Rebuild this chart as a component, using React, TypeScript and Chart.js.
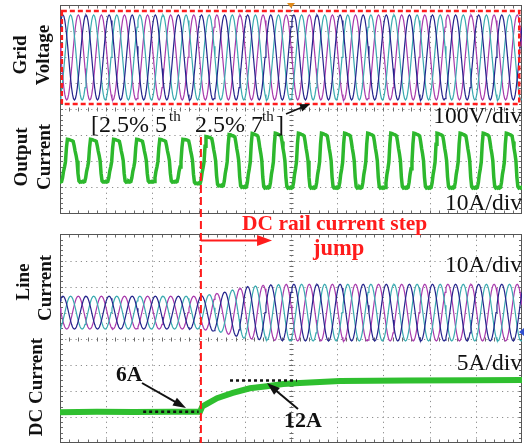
import React, { useEffect, useRef } from "react";
import { Chart, registerables } from "chart.js";

Chart.register(...registerables);

// ---------- layout of the scope screen (in divisions) ----------
const xDivisions = 10;
const panelDivisions = 8;
const gapDivisions = 0.8;
const cyclePeriodDiv = 0.5; // one line cycle = half a division
const stepTimeDiv = 3.05;   // DC rail current step instant

// ---------- waveform shapes (one period, 24 samples) ----------
const sineShape = [0, 0.26, 0.5, 0.71, 0.87, 0.97, 1, 0.97, 0.87, 0.71, 0.5, 0.26,
  0, -0.26, -0.5, -0.71, -0.87, -0.97, -1, -0.97, -0.87, -0.71, -0.5, -0.26];
const outputCurrentShape = [1.0, 0.99, 0.98, 0.96, 0.95, 0.93, 0.9, 0.7, 0.45, 0.25, 0.0, -0.6,
  -0.95, -1.0, -0.98, -1.0, -0.97, -1.0, -0.98, -0.8, -0.5, -0.3, -0.05, 0.6];

// ---------- per-cycle peak values ----------
const gridVoltagePeakV = [163, 163, 163, 163, 163, 163, 163, 163, 163, 163, 163,
  163, 163, 163, 163, 163, 163, 163, 163, 163, 163, 163];
const outputCurrentPeakA = [8.2, 8.2, 8.2, 8.2, 8.2, 8.2, 8.2, 9.2, 10.0, 10.4, 10.5,
  10.5, 10.5, 10.5, 10.5, 10.5, 10.5, 10.5, 10.5, 10.5, 10.5, 10.5];
const lineCurrentPeakA = [6.3, 6.3, 6.3, 6.3, 6.3, 6.3, 6.3, 6.3, 7.6, 9.9, 10.6,
  10.9, 10.9, 10.9, 10.9, 10.9, 10.9, 10.9, 10.9, 10.9, 10.9, 10.9];

// ---------- DC rail current ----------
const dcTimeDiv = [0, 0.8, 1.6, 2.4, 3.03, 3.08, 3.18, 3.4, 3.74, 4.11, 4.48, 4.83, 5.19, 6.06, 7.5, 9.0, 10];
const dcCurrentA = [5.9, 6.0, 5.95, 6.0, 6.0, 7.0, 7.5, 8.6, 9.6, 10.5, 10.9, 11.3, 11.5, 11.9, 12.0, 12.05, 12.1];

// ---------- channel settings: zero position (div) and scale (units/div) ----------
const gridVoltageZeroDiv = 14.79;
const gridVoltageScale = 100; // V/div
const outputCurrentZeroDiv = 10.83;
const outputCurrentScale = 10; // A/div
const outputCurrentStartDiv = -0.34;
const lineCurrentZeroDiv = 5.0;
const lineCurrentScale = 10; // A/div
const dcCurrentZeroDiv = 0;
const dcCurrentScale = 5; // A/div

const phaseColors = ["#24248c", "#3aaab0", "#a83aac"];
const phaseShifts = [3, 19, 11];

const SERIF = "'Liberation Serif', 'Times New Roman', serif";

function buildWave(shape: number[], peaks: number[], startDiv: number, zeroDiv: number, scale: number, shift: number) {
  const pts: { x: number; y: number }[] = [];
  const n = shape.length;
  for (let c = 0; c < peaks.length; c++) {
    const next = peaks[Math.min(c + 1, peaks.length - 1)];
    for (let k = 0; k < n; k++) {
      const t = startDiv + (c + k / n) * cyclePeriodDiv;
      const amp = peaks[c] + (next - peaks[c]) * (k / n);
      pts.push({ x: t, y: zeroDiv + (amp * shape[(k + shift) % n]) / scale });
    }
  }
  return pts;
}

const yMax = panelDivisions * 2 + gapDivisions;

function arrow(ctx: CanvasRenderingContext2D, x1: number, y1: number, x2: number, y2: number, color: string, w: number, hl: number, hw: number) {
  const ang = Math.atan2(y2 - y1, x2 - x1);
  ctx.save();
  ctx.strokeStyle = color;
  ctx.fillStyle = color;
  ctx.lineWidth = w;
  ctx.setLineDash([]);
  ctx.beginPath();
  ctx.moveTo(x1, y1);
  ctx.lineTo(x2 - Math.cos(ang) * hl * 0.8, y2 - Math.sin(ang) * hl * 0.8);
  ctx.stroke();
  ctx.beginPath();
  ctx.moveTo(x2, y2);
  ctx.lineTo(x2 - Math.cos(ang) * hl + Math.sin(ang) * hw / 2, y2 - Math.sin(ang) * hl - Math.cos(ang) * hw / 2);
  ctx.lineTo(x2 - Math.cos(ang) * hl - Math.sin(ang) * hw / 2, y2 - Math.sin(ang) * hl + Math.cos(ang) * hw / 2);
  ctx.closePath();
  ctx.fill();
  ctx.restore();
}

const gridPlugin = {
  id: "scopeGrid",
  beforeDatasetsDraw(chart: any) {
    const { ctx, chartArea: a, scales } = chart;
    const X = scales.x, Y = scales.y;
    ctx.save();
    const seg = (x1: number, y1: number, x2: number, y2: number) => {
      ctx.beginPath();
      ctx.moveTo(x1, y1);
      ctx.lineTo(x2, y2);
      ctx.stroke();
    };
    const panels = [[0, panelDivisions], [panelDivisions + gapDivisions, yMax]];
    for (const [y0, y1] of panels) {
      const top = Math.round(Y.getPixelForValue(y1)) + 0.5;
      const bot = Math.round(Y.getPixelForValue(y0)) - 0.5;
      ctx.fillStyle = "#ffffff";
      ctx.fillRect(a.left, top, a.right - a.left, bot - top);
      ctx.strokeStyle = "#8c8c8c";
      ctx.lineWidth = 1;
      ctx.setLineDash([1.2, 4]);
      for (let i = 1; i < xDivisions; i++) {
        const p = Math.round(X.getPixelForValue(i)) + 0.5;
        seg(p, top, p, bot);
      }
      for (let j = 1; j < panelDivisions; j++) {
        const p = Math.round(Y.getPixelForValue(y0 + j)) + 0.5;
        seg(a.left, p, a.right, p);
      }
      ctx.setLineDash([]);
      ctx.strokeStyle = "#6a6a6a";
      const cx = Math.round(X.getPixelForValue(xDivisions / 2)) + 0.5;
      const cy = Math.round(Y.getPixelForValue(y0 + panelDivisions / 2)) + 0.5;
      for (let k = 1; k < xDivisions * 5; k++) {
        const p = Math.round(X.getPixelForValue(k / 5)) + 0.5;
        seg(p, top, p, top + 3);
        seg(p, bot, p, bot - 3);
        seg(p, cy - 2, p, cy + 2);
      }
      for (let k = 1; k < panelDivisions * 5; k++) {
        const p = Math.round(Y.getPixelForValue(y0 + k / 5)) + 0.5;
        seg(a.left, p, a.left + 3, p);
        seg(a.right, p, a.right - 3, p);
        seg(cx - 2, p, cx + 2, p);
      }
      ctx.strokeStyle = "#555555";
      ctx.strokeRect(Math.round(a.left) + 0.5, top, Math.round(a.right - a.left) - 1, bot - top);
    }
    ctx.restore();
  },
};

const annotationPlugin = {
  id: "scopeNotes",
  afterDraw(chart: any) {
    const { ctx, scales } = chart;
    const X = scales.x, Y = scales.y;
    const px = (v: number) => X.getPixelForValue(v);
    const py = (v: number) => Y.getPixelForValue(v);
    ctx.save();

    // red dashed box around grid voltage
    ctx.strokeStyle = "#ff1c1c";
    ctx.lineWidth = 2.5;
    ctx.setLineDash([5, 3]);
    ctx.strokeRect(px(0.04), py(16.57), px(9.94) - px(0.04), py(13.0) - py(16.57));

    // red dashed step line
    ctx.lineWidth = 2;
    ctx.setLineDash([8, 4]);
    ctx.beginPath();
    ctx.moveTo(px(stepTimeDiv), py(11.74));
    ctx.lineTo(px(stepTimeDiv), py(0));
    ctx.stroke();
    ctx.setLineDash([]);

    // red arrow
    arrow(ctx, px(stepTimeDiv), py(7.77), px(4.59), py(7.77), "#ff1c1c", 2, 15, 11);

    ctx.fillStyle = "#ff1c1c";
    ctx.font = `bold 21.5px ${SERIF}`;
    ctx.textAlign = "left";
    ctx.textBaseline = "alphabetic";
    ctx.fillText("DC rail current step", 242, 230);
    ctx.font = `bold 22.5px ${SERIF}`;
    ctx.fillText("jump", 313, 255);

    // harmonic note
    ctx.fillStyle = "#111111";
    ctx.font = `24px ${SERIF}`;
    ctx.fillText("[2.5% 5", 91, 132);
    ctx.font = `15px ${SERIF}`;
    ctx.fillText("th", 169, 121);
    ctx.font = `24px ${SERIF}`;
    ctx.fillText("2.5% 7", 195, 132);
    ctx.font = `15px ${SERIF}`;
    ctx.fillText("th", 262, 121);
    ctx.font = `24px ${SERIF}`;
    ctx.fillText("]", 276, 132);
    arrow(ctx, 286, 114, 310, 104, "#111111", 1.6, 10, 8);

    // volts/div labels
    ctx.font = `23.5px ${SERIF}`;
    ctx.textAlign = "right";
    ctx.fillText("100V/div", 522, 123);
    ctx.fillText("10A/div", 522, 210);
    ctx.fillText("10A/div", 522, 272);
    ctx.fillText("5A/div", 522, 370);

    // DC level markers
    const y6 = py(dcCurrentZeroDiv + 6 / dcCurrentScale);
    const y12 = py(dcCurrentZeroDiv + 12 / dcCurrentScale);
    ctx.strokeStyle = "#111111";
    ctx.lineWidth = 2.5;
    ctx.setLineDash([3, 3]);
    ctx.beginPath();
    ctx.moveTo(px(1.8), y6);
    ctx.lineTo(px(3.0), y6);
    ctx.moveTo(px(3.68), y12);
    ctx.lineTo(px(5.13), y12);
    ctx.stroke();
    ctx.setLineDash([]);
    ctx.textAlign = "left";
    ctx.font = `bold 21.5px ${SERIF}`;
    ctx.fillText("6A", 116, 381);
    arrow(ctx, 142, 383, 186, 408, "#111111", 2, 13, 9);
    ctx.font = `bold 22px ${SERIF}`;
    ctx.fillText("12A", 284, 427);
    arrow(ctx, 298, 409, 267, 383, "#111111", 2, 13, 9);

    // trigger / marker glyphs
    ctx.fillStyle = "#e08a1a";
    ctx.beginPath();
    ctx.moveTo(px(5) - 4, 3);
    ctx.lineTo(px(5) + 4, 3);
    ctx.lineTo(px(5), 8);
    ctx.closePath();
    ctx.fill();
    ctx.fillStyle = "#3050d0";
    ctx.beginPath();
    ctx.moveTo(524, 328);
    ctx.lineTo(524, 336);
    ctx.lineTo(519, 332);
    ctx.closePath();
    ctx.fill();

    // rotated channel labels
    ctx.fillStyle = "#111111";
    ctx.font = `bold 19px ${SERIF}`;
    ctx.textAlign = "center";
    ctx.textBaseline = "middle";
    const vlabel = (t: string, x: number, y: number) => {
      ctx.save();
      ctx.translate(x, y);
      ctx.rotate(-Math.PI / 2);
      ctx.fillText(t, 0, 0);
      ctx.restore();
    };
    vlabel("Grid", 21, 55);
    vlabel("Voltage", 44, 55);
    vlabel("Output", 22, 157);
    vlabel("Current", 45, 157);
    vlabel("Line", 24, 282);
    vlabel("Current", 46, 288);
    vlabel("DC Current", 37, 387);

    ctx.restore();
  },
};

export default function App() {
  const ref = useRef<HTMLCanvasElement | null>(null);
  useEffect(() => {
    document.body.style.margin = "0";
    const canvas = ref.current!;
    const datasets: any[] = [];
    phaseColors.forEach((col, i) => {
      datasets.push({
        label: `Grid voltage ${i + 1}`,
        data: buildWave(sineShape, gridVoltagePeakV, -cyclePeriodDiv, gridVoltageZeroDiv, gridVoltageScale, phaseShifts[i]),
        borderColor: col,
        borderWidth: 1.2,
      });
    });
    phaseColors.forEach((col, i) => {
      datasets.push({
        label: `Line current ${i + 1}`,
        data: buildWave(sineShape, lineCurrentPeakA, -cyclePeriodDiv, lineCurrentZeroDiv, lineCurrentScale, phaseShifts[i]),
        borderColor: col,
        borderWidth: 1.2,
      });
    });
    const outData = buildWave(outputCurrentShape, outputCurrentPeakA, outputCurrentStartDiv, outputCurrentZeroDiv, outputCurrentScale, 0);
    datasets.push({ label: "Output current", data: outData, borderColor: "#2db82d", borderWidth: 3.5 });
    datasets.push({ label: "Output current core", data: outData, borderColor: "rgba(20,110,20,0.55)", borderWidth: 1 });
    const dcData = dcTimeDiv.map((t, i) => ({ x: t, y: dcCurrentZeroDiv + dcCurrentA[i] / dcCurrentScale }));
    datasets.push({ label: "DC current", data: dcData, borderColor: "#2fbf2f", borderWidth: 6 });
    datasets.push({ label: "DC current texture", data: dcData, borderColor: "rgba(15,110,15,0.7)", borderWidth: 1.5, borderDash: [2, 3] });

    const chart = new Chart(canvas, {
      type: "line",
      data: { datasets },
      options: {
        responsive: false,
        animation: false,
        devicePixelRatio: 1,
        layout: { padding: { left: 60, right: 2, top: 5, bottom: 2 } },
        scales: {
          x: { type: "linear", min: 0, max: xDivisions, display: false },
          y: { type: "linear", min: 0, max: yMax, display: false },
        },
        plugins: { legend: { display: false }, tooltip: { enabled: false } },
        elements: { point: { radius: 0 }, line: { tension: 0 } },
      },
      plugins: [gridPlugin, annotationPlugin],
    } as any);
    return () => chart.destroy();
  }, []);
  return <canvas ref={ref} width={524} height={445} style={{ display: "block", width: 524, height: 445 }} />;
}
